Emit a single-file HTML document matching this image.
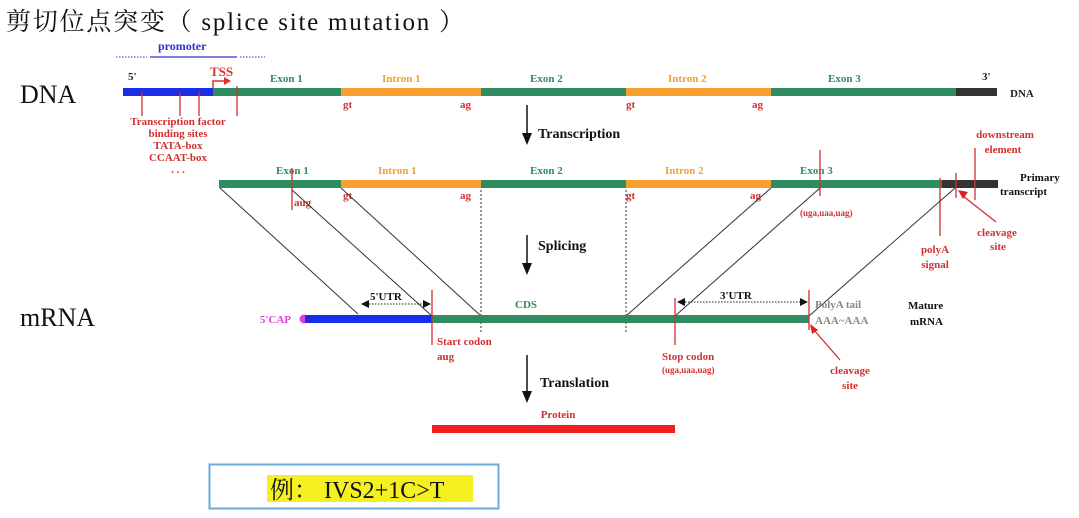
<!DOCTYPE html>
<html><head><meta charset="utf-8"><style>
html,body{margin:0;padding:0;background:#fff;}
svg{display:block;font-family:"Liberation Serif","Noto Serif CJK SC",serif;}
.b{font-weight:bold;}
</style></head><body>
<svg width="1079" height="518" viewBox="0 0 1079 518" xmlns="http://www.w3.org/2000/svg">
<rect width="1079" height="518" fill="#fff"/>
<text x="6" y="30" font-size="25" fill="#111" textLength="458" lengthAdjust="spacing" font-family="'Liberation Serif','Noto Serif CJK SC',serif">剪切位点突变（ splice site mutation ）</text>
<!-- promoter -->
<text x="158" y="50" font-size="12" class="b" fill="#3333cc">promoter</text>
<line x1="116" y1="57" x2="147" y2="57" stroke="#3333cc" stroke-dasharray="1.5,1.5"/>
<line x1="150" y1="57" x2="237" y2="57" stroke="#3333cc" stroke-width="1.2"/>
<line x1="240" y1="57" x2="265" y2="57" stroke="#3333cc" stroke-dasharray="1.5,1.5"/>
<text x="20" y="103" font-size="26" fill="#111">DNA</text>
<text x="20" y="326" font-size="26" fill="#111">mRNA</text>
<!-- DNA bar -->
<rect x="123" y="88" width="90" height="8" fill="#1a2ee8"/>
<rect x="213" y="88" width="128" height="8" fill="#2e8b62"/>
<rect x="341" y="88" width="140" height="8" fill="#f7a030"/>
<rect x="481" y="88" width="145" height="8" fill="#2e8b62"/>
<rect x="626" y="88" width="145" height="8" fill="#f7a030"/>
<rect x="771" y="88" width="185" height="8" fill="#2e8b62"/>
<rect x="956" y="88" width="41" height="8" fill="#333"/>
<g font-size="11" class="b">
<text x="128" y="80" fill="#222">5'</text>
<text x="982" y="80" fill="#222">3'</text>
<text x="1010" y="97" fill="#222">DNA</text>
<text x="270" y="82" fill="#2e8b62">Exon 1</text>
<text x="382" y="82" fill="#f0a030">Intron 1</text>
<text x="530" y="82" fill="#2e8b62">Exon 2</text>
<text x="668" y="82" fill="#f0a030">Intron 2</text>
<text x="828" y="82" fill="#2e8b62">Exon 3</text>
<text x="343" y="108" fill="#d03030">gt</text>
<text x="460" y="108" fill="#d03030">ag</text>
<text x="626" y="108" fill="#d03030">gt</text>
<text x="752" y="108" fill="#d03030">ag</text>
<text x="210" y="76" fill="#e03030" font-size="13">TSS</text>
</g>
<path d="M213 88 V81 H224" stroke="#e03030" fill="none" stroke-width="1.5"/>
<path d="M224 77 L231 81 L224 85Z" fill="#e03030"/>
<g stroke="#d03030" stroke-width="1.3">
<line x1="142" y1="92" x2="142" y2="116"/><line x1="180" y1="92" x2="180" y2="116"/>
<line x1="199" y1="92" x2="199" y2="116"/><line x1="237" y1="86" x2="237" y2="116"/>
</g>
<g font-size="11" class="b" fill="#d03030" text-anchor="middle">
<text x="178" y="125">Transcription factor</text>
<text x="178" y="137">binding sites</text>
<text x="178" y="149">TATA-box</text>
<text x="178" y="161">CCAAT-box</text>
<text x="178" y="173">. . .</text>
</g>
<!-- transcription arrow -->
<line x1="527" y1="105" x2="527" y2="135" stroke="#111" stroke-width="1.5"/>
<path d="M522 133 L527 145 L532 133Z" fill="#111"/>
<text x="538" y="138" font-size="14" class="b" fill="#111">Transcription</text>
<!-- primary transcript -->
<rect x="219" y="180" width="122" height="8" fill="#2e8b62"/>
<rect x="341" y="180" width="140" height="8" fill="#f7a030"/>
<rect x="481" y="180" width="145" height="8" fill="#2e8b62"/>
<rect x="626" y="180" width="145" height="8" fill="#f7a030"/>
<rect x="771" y="180" width="171" height="8" fill="#2e8b62"/>
<rect x="942" y="180" width="56" height="8" fill="#333"/>
<g font-size="11" class="b">
<text x="276" y="174" fill="#2e8b62">Exon 1</text>
<text x="378" y="174" fill="#f0a030">Intron 1</text>
<text x="530" y="174" fill="#2e8b62">Exon 2</text>
<text x="665" y="174" fill="#f0a030">Intron 2</text>
<text x="800" y="174" fill="#2e8b62">Exon 3</text>
<text x="343" y="199" fill="#d03030">gt</text>
<text x="460" y="199" fill="#d03030">ag</text>
<text x="626" y="199" fill="#d03030">gt</text>
<text x="750" y="199" fill="#d03030">ag</text>
<text x="294" y="206" fill="#d03030">aug</text>
<text x="1020" y="181" fill="#111">Primary</text>
<text x="1000" y="195" fill="#111">transcript</text>
<text x="800" y="216" font-size="9" fill="#d03030">(uga,uaa,uag)</text>
<g fill="#d03030" text-anchor="middle">
<text x="1005" y="138">downstream</text>
<text x="1003" y="153">element</text>
<text x="997" y="236">cleavage</text>
<text x="998" y="250">site</text>
<text x="935" y="253">polyA</text>
<text x="935" y="268">signal</text>
</g>
</g>
<g stroke="#d03030" stroke-width="1.3">
<line x1="292" y1="168" x2="292" y2="210"/>
<line x1="820" y1="150" x2="820" y2="196"/>
<line x1="940" y1="178" x2="940" y2="236"/>
<line x1="956" y1="173" x2="956" y2="198"/>
<line x1="975" y1="148" x2="975" y2="200"/>
<line x1="996" y1="222" x2="963" y2="196"/>
</g>
<path d="M958 190 L968 192 L963 199Z" fill="#e02020"/>
<!-- splicing lines -->
<g stroke="#333" stroke-width="1">
<line x1="220" y1="188" x2="358" y2="314"/>
<line x1="292" y1="190" x2="432" y2="316"/>
<line x1="341" y1="188" x2="481" y2="316"/>
<line x1="771" y1="188" x2="626" y2="316"/>
<line x1="820" y1="188" x2="675" y2="316"/>
<line x1="955" y1="188" x2="809" y2="316"/>
</g>
<g stroke="#333" stroke-width="1" stroke-dasharray="2,2">
<line x1="481" y1="190" x2="481" y2="333"/>
<line x1="626" y1="190" x2="626" y2="333"/>
</g>
<line x1="527" y1="235" x2="527" y2="265" stroke="#111" stroke-width="1.5"/>
<path d="M522 263 L527 275 L532 263Z" fill="#111"/>
<text x="538" y="250" font-size="14" class="b" fill="#111">Splicing</text>
<!-- mRNA -->
<circle cx="304" cy="319" r="4.5" fill="#e040e0"/>
<rect x="305" y="315" width="127" height="8" fill="#1a2ee8"/>
<rect x="432" y="315" width="377" height="8" fill="#2e8b62"/>
<g font-size="11" class="b">
<text x="291" y="323" fill="#e040e0" text-anchor="end">5'CAP</text>
<text x="370" y="300" fill="#111">5'UTR</text>
<text x="720" y="299" fill="#111">3'UTR</text>
<text x="515" y="308" fill="#2e8b62">CDS</text>
<text x="815" y="308" fill="#888">PolyA tail</text>
<text x="815" y="324" fill="#888">AAA~AAA</text>
<text x="908" y="309" fill="#111">Mature</text>
<text x="910" y="325" fill="#111">mRNA</text>
<text x="437" y="345" fill="#d03030">Start codon</text>
<text x="437" y="360" fill="#d03030">aug</text>
<text x="662" y="360" fill="#d03030">Stop codon</text>
<text x="662" y="373" font-size="9" fill="#d03030">(uga,uaa,uag)</text>
<text x="850" y="374" fill="#d03030" text-anchor="middle">cleavage</text>
<text x="850" y="389" fill="#d03030" text-anchor="middle">site</text>
<text x="558" y="418" fill="#d03030" text-anchor="middle">Protein</text>
</g>
<g stroke="#222" stroke-width="1" stroke-dasharray="1.5,1.5">
<line x1="366" y1="304" x2="426" y2="304"/>
<line x1="682" y1="302" x2="803" y2="302"/>
</g>
<path d="M361 304 L369 300 L369 308Z M431 304 L423 300 L423 308Z M677 302 L685 298 L685 306Z M808 302 L800 298 L800 306Z" fill="#111"/>
<g stroke="#d03030" stroke-width="1.3">
<line x1="432" y1="290" x2="432" y2="345"/>
<line x1="675" y1="298" x2="675" y2="345"/>
<line x1="809" y1="290" x2="809" y2="330"/>
<line x1="840" y1="360" x2="814" y2="330"/>
</g>
<path d="M810 324 L818 330 L812 334Z" fill="#e02020"/>
<line x1="527" y1="355" x2="527" y2="393" stroke="#111" stroke-width="1.5"/>
<path d="M522 391 L527 403 L532 391Z" fill="#111"/>
<text x="540" y="387" font-size="14" class="b" fill="#111">Translation</text>
<rect x="432" y="425" width="243" height="8" fill="#f02020"/>
<!-- example box -->
<rect x="209.5" y="464.5" width="289" height="44" fill="#fff" stroke="#6aaed6" stroke-width="2"/>
<rect x="267" y="475" width="206" height="27" fill="#f5f020"/>
<text x="270" y="498" font-size="24" fill="#111">例： IVS2+1C&gt;T</text>
</svg>
</body></html>
